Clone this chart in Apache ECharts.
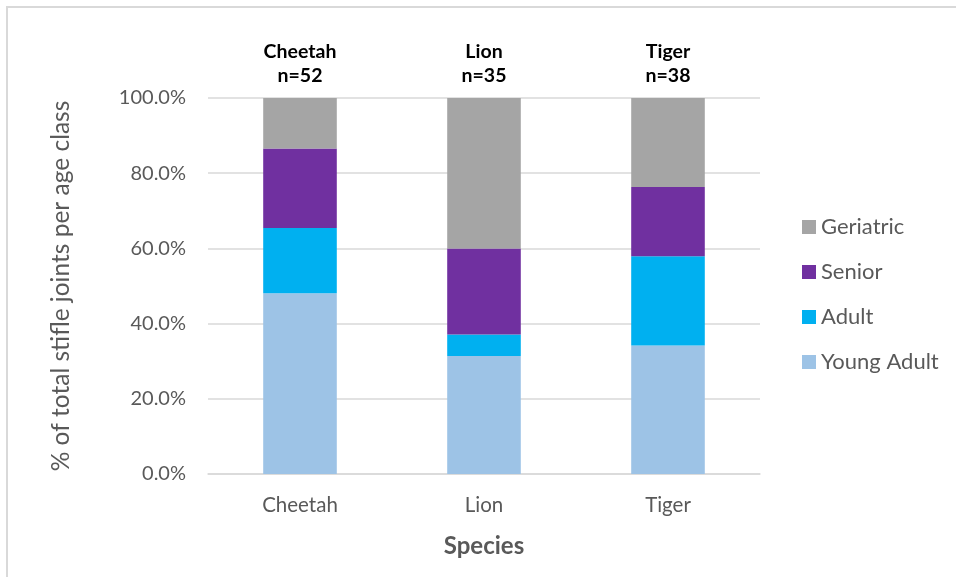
<!DOCTYPE html>
<html>
<head>
<meta charset="utf-8">
<style>
  html, body { margin: 0; padding: 0; background: #fff; }
  #chart { width: 956px; height: 577px; }
</style>
<script src="https://cdn.jsdelivr.net/npm/echarts@6/dist/echarts.min.js"></script>
</head>
<body>
<div id="chart"></div>
<script>
// Species along the x axis and sample size per species
var species = ['Cheetah', 'Lion', 'Tiger'];
var sampleSize = [52, 35, 38];

// Share of stifle joints (%) in each age class, per species
var youngAdult = [48.1, 31.4, 34.2];
var adult = [17.3, 5.7, 23.7];
var senior = [21.2, 22.9, 18.4];
var geriatric = [13.4, 40.0, 23.7];

var yTicks = [0, 20, 40, 60, 80, 100];

var FONT = 'Lato, "Open Sans", sans-serif';
var GREY_TEXT = '#595959';

var chart = echarts.init(document.getElementById('chart'), null, { renderer: 'canvas' });

function stackSeries(name, values, color) {
  return {
    name: name,
    type: 'bar',
    stack: 'total',
    barWidth: '40%',
    itemStyle: { color: color },
    emphasis: { disabled: true },
    data: values
  };
}

// The top segment carries the species name and sample size above each bar
var topSeries = stackSeries('Geriatric', geriatric, '#a5a5a5');
topSeries.label = {
  show: true,
  position: 'top',
  distance: 10,
  fontFamily: FONT,
  fontSize: 19.5,
  fontWeight: 'bold',
  color: '#000',
  lineHeight: 24,
  formatter: function (p) {
    return p.name + '\nn=' + sampleSize[p.dataIndex];
  }
};

var option = {
  animation: false,
  backgroundColor: '#fff',
  textStyle: { fontFamily: FONT },
  grid: { left: 208, right: 196, top: 98, bottom: 103, containLabel: false },
  legend: {
    orient: 'vertical',
    left: 797,
    top: 211,
    padding: 5,
    itemWidth: 14,
    itemHeight: 14,
    itemGap: 23,
    itemTextGap: 6,
    icon: 'rect',
    data: ['Geriatric', 'Senior', 'Adult', 'Young Adult'],
    textStyle: { fontFamily: FONT, fontSize: 22, color: GREY_TEXT, lineHeight: 22 }
  },
  xAxis: {
    type: 'category',
    data: species,
    name: 'Species',
    nameLocation: 'middle',
    nameGap: 60,
    nameTextStyle: { fontFamily: FONT, fontSize: 24, fontWeight: 'bold', color: GREY_TEXT },
    axisLine: { lineStyle: { color: '#d9d9d9', width: 1.5 } },
    axisTick: { show: false },
    axisLabel: { fontFamily: FONT, fontSize: 20.5, color: GREY_TEXT, margin: 21 }
  },
  yAxis: {
    type: 'value',
    min: yTicks[0],
    max: yTicks[yTicks.length - 1],
    interval: yTicks[1] - yTicks[0],
    name: '% of total stifle joints per age class',
    nameLocation: 'middle',
    nameGap: 134,
    nameRotate: 90,
    nameTextStyle: { fontFamily: FONT, fontSize: 24.5, color: GREY_TEXT },
    axisLine: { show: false },
    axisTick: { show: false },
    axisLabel: {
      fontFamily: FONT, fontSize: 20, color: GREY_TEXT, margin: 22,
      formatter: function (v) { return v.toFixed(1) + '%'; }
    },
    splitLine: { lineStyle: { color: '#d9d9d9', width: 1.5 } }
  },
  graphic: [{
    type: 'polyline',
    shape: { points: [[7, 577], [7, 7], [956, 7]] },
    style: { stroke: '#d9d9d9', lineWidth: 2, fill: null },
    silent: true
  }],
  series: [
    stackSeries('Young Adult', youngAdult, '#9dc3e6'),
    stackSeries('Adult', adult, '#00b0f0'),
    stackSeries('Senior', senior, '#7030a0'),
    topSeries
  ]
};

chart.setOption(option);
</script>
</body>
</html>
